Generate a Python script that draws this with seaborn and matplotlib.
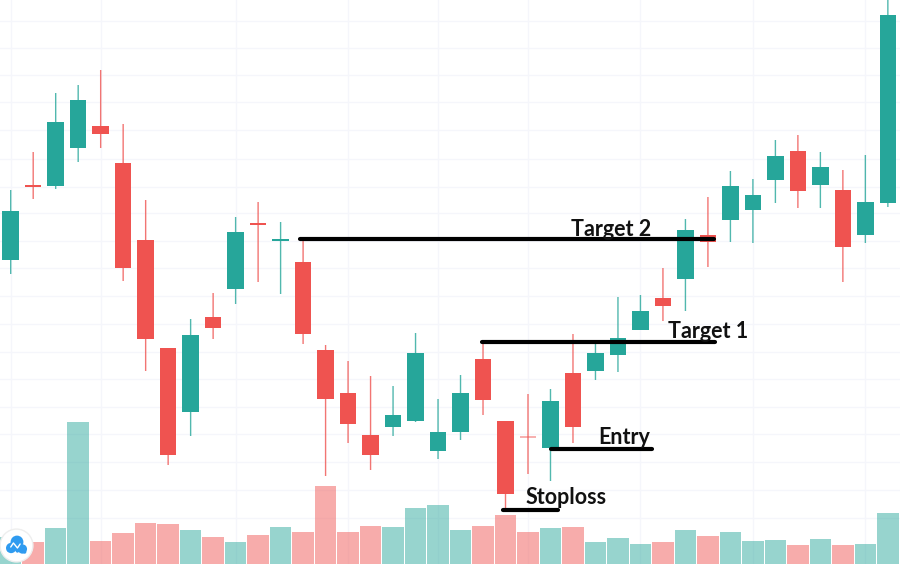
#!/usr/bin/env python3
import pandas as pd
import seaborn as sns
import matplotlib.pyplot as plt

# Candles (price units are arbitrary, 0 = bottom of chart)
highs = [374, 412, 471, 479, 494, 440, 364, 216, 245, 271, 347, 362, 342, 323, 219, 203, 188, 178, 231, 165,
         189, 222, 143, 170, 175, 230, 222, 267, 269, 296, 345, 367, 393, 385, 424, 429, 412, 394, 409, 564]
lows = [290, 365, 375, 402, 416, 283, 193, 99, 128, 225, 260, 282, 270, 220, 88, 121, 94, 128, 142, 105,
        124, 149, 55, 90, 83, 121, 184, 192, 234, 243, 253, 297, 322, 321, 361, 356, 356, 282, 321, 357]
opens = [304, 378, 378, 416, 438, 401, 324, 216, 152, 247, 275, 341, 323, 302, 214, 171, 129, 137, 143, 113,
         132, 205, 143, 127, 116, 191, 193, 209, 234, 266, 285, 329, 344, 354, 384, 413, 379, 374, 329, 361]
closes = [353, 377, 442, 464, 430, 296, 225, 109, 229, 236, 332, 339, 325, 230, 165, 140, 109, 149, 211, 132,
          171, 164, 70, 126, 163, 137, 211, 226, 253, 258, 334, 322, 378, 369, 408, 373, 397, 317, 362, 549]
# one more volume bar than candles, its candle sits off the right edge
volumes = [27, 22, 36, 142, 23, 31, 41, 40, 34, 27, 22, 29, 37, 32, 78, 32, 38, 37, 56, 59,
           34, 38, 49, 32, 36, 37, 22, 26, 20, 22, 34, 28, 32, 23, 24, 19, 25, 19, 20, 51, 35]
volume_up = [True, False, True, True, False, False, False, False, True, False, True, False, True, False, False,
             False, False, True, True, True, True, False, False, False, True, False, True, True, True, False,
             True, False, True, True, True, False, True, False, True, True, False]

level_names = ['Target 2', 'Target 1', 'Entry', 'Stoploss']
level_prices = [325, 222, 115, 54.5]
level_starts = [12.86, 20.96, 24.02, 21.89]
level_ends = [31.27, 31.3, 28.51, 24.33]
label_x = [26.69, 31.0, 27.29, 24.69]
label_y = [335, 233, 126, 67]

grid_x = [0, 4, 10, 15, 19, 23, 28, 33, 38]
grid_y = [543, 516, 489, 462, 434, 405, 377, 351, 323, 296, 268, 240, 212, 185, 157, 130, 102, 74, 46]

GREEN = '#26a69a'
RED = '#ef5350'

df_vol = pd.DataFrame({'i': range(len(volumes)), 'volume': volumes, 'up': volume_up})
df = pd.DataFrame({'i': range(len(opens)), 'open': opens, 'close': closes, 'high': highs, 'low': lows})
df['up'] = df['close'] >= df['open']
df['bottom'] = df[['open', 'close']].min(axis=1)
df['body'] = (df['close'] - df['open']).abs().clip(lower=2)

sns.set_theme(style='white')
plt.rcParams['font.family'] = ['Lato', 'DejaVu Sans']

fig = plt.figure(figsize=(9, 5.64), dpi=100)
ax = fig.add_axes([0, 0, 1, 1])

# Volume
sns.barplot(data=df_vol, x='i', y='volume', hue='up', palette={True: GREEN, False: RED}, native_scale=True,
            dodge=False, width=0.955, saturation=1, alpha=0.48, linewidth=0, legend=False, ax=ax, zorder=2)

# Candles
candle_colors = df['up'].map({True: GREEN, False: RED})
wicks = ax.vlines(df['i'], df['low'], df['high'], colors=candle_colors, linewidth=1.0, alpha=0.8, zorder=3)
wicks.set_snap(False)
bodies = ax.bar(df['i'], df['body'], bottom=df['bottom'], width=0.73, color=candle_colors, linewidth=0, zorder=4)
bodies[23].set_alpha(0.45)  # this doji is washed out in the screenshot

# Drawn levels and their labels
for name, price, start, end, tx, ty in zip(level_names, level_prices, level_starts, level_ends, label_x, label_y):
    ax.hlines(price, start, end, color='black', linewidth=3, zorder=5, capstyle='round')
    ax.text(tx, ty, name, ha='center', va='center', fontsize=15.5, fontweight='bold', color='#111111', zorder=6)

# Logo in the corner
ax.scatter([0.235], [19], s=560, color='white', edgecolor='#eeeeee', linewidth=1, zorder=7, clip_on=False)
ax.scatter([0.02, 0.28, 0.52], [16, 22, 15], s=[55, 85, 45], color='#2f9bf0', linewidth=0, zorder=8)
ax.plot([-0.1, 0.08, 0.3, 0.45, 0.62], [14, 21, 13, 18, 12], color='#2f9bf0', linewidth=2.5, zorder=8)
ax.plot([0.0, 0.12, 0.3, 0.42], [17, 21, 16, 20], color='white', linewidth=1, zorder=9)

ax.set_xticks(grid_x)
ax.set_yticks(grid_y)
ax.set_xticklabels([])
ax.set_yticklabels([])
ax.tick_params(length=0)
ax.grid(True, color='#f5f6fb', linewidth=1)
ax.set_axisbelow(True)
ax.set_xlabel('')
ax.set_ylabel('')
sns.despine(ax=ax, left=True, bottom=True)
ax.set_xlim(-0.476, 39.54)
ax.set_ylim(0, 564)

plt.savefig('out.png', dpi=100)
plt.close()
